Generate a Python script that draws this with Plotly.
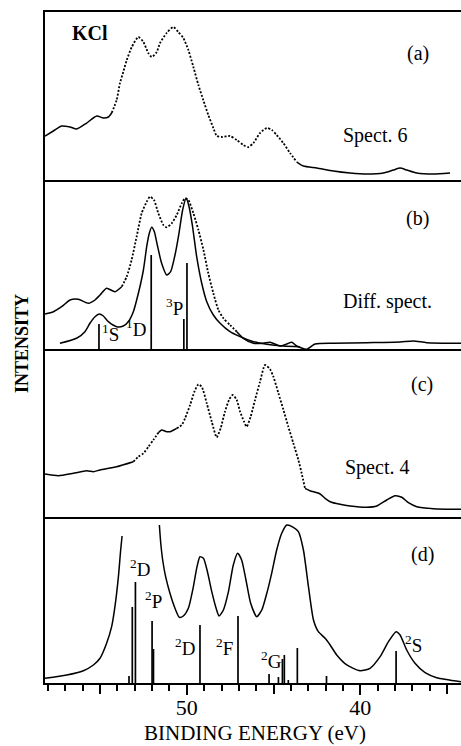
import plotly.graph_objects as go
from plotly.subplots import make_subplots

# ---------------- data (binding energy in eV, intensity in arbitrary units) ----------------
# (a) Spect. 6
energy_a = [58.17, 57.69, 57.21, 56.73, 56.34, 55.77, 55.19, 54.81, 54.52, 54.33, 54.04, 53.85,
            53.66, 53.46, 53.17, 52.79, 52.50, 52.22, 52.02, 51.73, 51.54, 51.16, 50.78, 50.49,
            50.20, 49.91, 49.62, 49.33, 49.05, 48.76, 48.47, 48.27, 47.99, 47.51, 47.12, 46.74,
            46.45, 46.16, 45.78, 45.39, 45.10, 44.82, 44.44, 44.05, 43.66, 43.28, 42.51, 41.55,
            40.59, 39.63, 38.67, 38.10, 37.71, 37.32, 36.75, 35.79, 34.83]
inten_a = [44, 49, 54, 53, 51, 57, 64, 62, 63, 67, 80, 97,
           108, 120, 133, 143, 138, 127, 123, 128, 137, 147, 153, 148,
           142, 130, 113, 95, 80, 65, 52, 44, 43, 44, 40, 35,
           33, 37, 47, 52, 50, 45, 37, 27, 18, 14, 12, 9,
           7, 6, 7, 10, 12, 10, 7, 6, 7]

# (b) measured spectrum and fitted difference spectrum
energy_b_meas = [58.17, 57.69, 57.21, 56.73, 56.25, 55.67, 55.29, 55.00, 54.62, 54.14, 53.75, 53.46,
                 53.18, 52.89, 52.60, 52.31, 52.12, 51.89, 51.64, 51.35, 51.16, 50.87, 50.58, 50.29,
                 50.10, 49.91, 49.62, 49.33, 49.04, 48.76, 48.47, 48.18, 47.89, 47.51, 47.12, 46.74,
                 46.16, 45.59, 45.20, 44.63, 44.24, 43.95, 43.67, 43.09, 42.61, 41.55, 39.63, 37.71,
                 36.94, 36.17, 34.19]
inten_b_meas = [35, 37.3, 42.3, 49, 49.7, 45.7, 49, 54, 60.7, 57.3, 62.3, 72.3,
                89, 112.3, 135.7, 147.3, 152.3, 149, 135.7, 124, 121.7, 125.7, 134, 145.7,
                150.7, 149, 135.7, 119, 99, 75.7, 55.7, 39, 30.7, 24, 17.3, 10.7,
                5.7, 5.7, 6.7, 3, 5, 6.7, 3, -0.3, 5, 5.7, 6.3, 7,
                8, 6.3, 5.7]
energy_b_fit = [57.31, 56.35, 55.87, 55.58, 55.29, 55.04, 54.81, 54.52, 54.04, 53.66, 53.37, 53.08,
                52.79, 52.50, 52.31, 52.16, 52.02, 51.87, 51.70, 51.45, 51.16, 50.93, 50.68, 50.45,
                50.24, 50.04, 49.87, 49.68, 49.43, 49.14, 48.85, 48.47, 48.08, 47.51, 46.93, 46.16,
                45.39, 44.43, 43.47]
inten_b_fit = [5.7, 10.7, 17.3, 25.7, 32.3, 35, 33, 27.3, 22.3, 23, 27.3, 37.3,
               55.7, 79, 102.3, 115.7, 121.7, 117.3, 104, 85.7, 74, 77.3, 94, 115.7,
               139, 150.7, 142.3, 124, 92.3, 65.7, 47.3, 34, 25.7, 17.3, 12.3, 7.3,
               4.7, 3, 2.3]
lines_b_energy = [55.06, 52.05, 50.17, 49.99]
lines_b_height = [25, 94, 30, 86]

# (c) Spect. 4
energy_c = [58.17, 57.40, 56.54, 55.77, 55.38, 55.00, 54.04, 53.08, 52.79, 52.50, 52.21, 51.93,
            51.64, 51.45, 51.16, 50.97, 50.58, 50.29, 50.10, 49.81, 49.56, 49.33, 49.14, 48.85,
            48.56, 48.28, 48.05, 47.80, 47.55, 47.35, 47.12, 46.93, 46.70, 46.55, 46.32, 46.07,
            45.78, 45.49, 45.20, 45.01, 44.72, 44.43, 44.15, 43.86, 43.57, 43.38, 43.19, 42.90,
            42.32, 42.03, 41.74, 41.17, 40.59, 39.63, 39.05, 38.48, 38.00, 37.61, 37.23, 36.75,
            35.79, 34.19]
inten_c = [43, 41.3, 43.7, 46.3, 45.3, 47, 50.3, 55.3, 60.3, 63.7, 70.3, 77,
           84.3, 87, 85.3, 85.3, 88.7, 92, 98.7, 112, 125.3, 132.7, 130.3, 113.7,
           95.3, 79.7, 88.7, 105.3, 117.7, 122, 117, 105.3, 95.3, 90.3, 100.3, 117,
           135.3, 152, 147.7, 140.3, 123.7, 107, 90.3, 73.7, 57, 43.7, 28.7, 26.3,
           23, 18.7, 15.3, 12.7, 11, 9.7, 11, 17, 21.3, 19.7, 14.3, 10.3,
           8.3, 7.7]

# (d) calculated spectrum (runs off scale between the two branches) and line positions
energy_d_left = [58.17, 56.92, 55.96, 55.38, 55.00, 54.62, 54.33, 54.14, 53.94, 53.81, 53.73]
inten_d_left = [4.7, 8, 12.3, 18, 24.7, 39.7, 56.3, 76.3, 106.3, 133, 147]
energy_d_right = [51.58, 51.50, 51.39, 51.22, 50.97, 50.68, 50.43, 50.20, 49.91, 49.62, 49.43, 49.24,
                  49.04, 48.81, 48.56, 48.31, 48.14, 47.89, 47.60, 47.32, 47.07, 46.84, 46.59, 46.32,
                  45.97, 45.68, 45.39, 45.11, 44.82, 44.53, 44.24, 43.86, 43.57, 43.28, 42.99, 42.70,
                  42.42, 42.03, 41.74, 41.36, 40.78, 40.02, 39.44, 38.86, 38.38, 37.94, 37.71, 37.33,
                  36.85, 36.27, 35.60, 34.19]
inten_d_right = [158, 139.7, 123, 106.3, 89.7, 74.7, 65.7, 67, 74.7, 96.3, 114.7, 126.3,
                 124.7, 111.3, 91.3, 74.7, 67, 73, 91.3, 118, 129.7, 123, 103, 79.7,
                 66.3, 73, 89.7, 109.7, 133, 149.7, 158, 155.7, 151.3, 133, 96.3, 63,
                 51.3, 44.7, 38, 28, 18, 12.3, 14.7, 26.3, 41.3, 51.3, 48, 33,
                 19.7, 10.3, 5.3, 1.3]
lines_d_energy = [53.33, 53.14, 52.96, 52.00, 51.92, 49.24, 47.05, 45.26, 44.72, 44.49, 44.38,
                  44.15, 43.63, 41.95, 37.94]
lines_d_height = [7, 76, 101, 62, 34, 58, 67, 9, 6, 24, 28, 3, 35, 7, 32]

# x-axis tick marks
labelled_ticks = [50, 40]
labelled_text = ["50", "40"]
unlabelled_ticks = [55, 45, 35]
minor_ticks = [58, 57, 56, 54, 53, 52, 51, 49, 48, 47, 46, 44, 43, 42, 41, 39, 38, 37, 36]

# ---------------- styling ----------------
FONT = "Liberation Serif"
INK = "black"
SOLID_W = 1.5
DOT_W = 1.8
DOT_DASH = "2px,1.7px"

# energy spans where the measured point curves are drawn as separated dots
dotted_spans_a = [(54.33, 43.66)]
dotted_spans_b = [(53.75, 47.12)]
dotted_spans_c = [(53.08, 51.64), (50.58, 43.19)]


def split_by_spans(xs, ys, spans):
    """Split a curve into (solid, dotted) point lists, separated by None gaps."""
    def dotted(m):
        return any(min(a, b) <= m <= max(a, b) for a, b in spans)

    parts = {False: ([], []), True: ([], [])}
    last = {False: None, True: None}
    for i in range(len(xs) - 1):
        key = dotted(0.5 * (xs[i] + xs[i + 1]))
        px, py = parts[key]
        if last[key] != i:
            if px:
                px.append(None)
                py.append(None)
            px.append(xs[i])
            py.append(ys[i])
        px.append(xs[i + 1])
        py.append(ys[i + 1])
        last[key] = i + 1
    return parts[False], parts[True]


def stick_xy(energies, heights):
    xs, ys = [], []
    for e, h in zip(energies, heights):
        xs += [e, e, None]
        ys += [0, h, None]
    return xs, ys


fig = make_subplots(rows=4, cols=1, shared_xaxes=True, vertical_spacing=0)


def add_point_curve(xs, ys, spans, row):
    (sx, sy), (dx, dy) = split_by_spans(xs, ys, spans)
    fig.add_trace(go.Scatter(x=sx, y=sy, mode="lines", showlegend=False, hoverinfo="skip",
                             line=dict(color=INK, width=SOLID_W, shape="spline", smoothing=0.6)),
                  row=row, col=1)
    fig.add_trace(go.Scatter(x=dx, y=dy, mode="lines", showlegend=False, hoverinfo="skip",
                             line=dict(color=INK, width=DOT_W, dash=DOT_DASH,
                                       shape="spline", smoothing=0.6)),
                  row=row, col=1)


def add_solid(xs, ys, row):
    fig.add_trace(go.Scatter(x=xs, y=ys, mode="lines", showlegend=False, hoverinfo="skip",
                             line=dict(color=INK, width=SOLID_W, shape="spline", smoothing=0.6)),
                  row=row, col=1)


def add_sticks(energies, heights, row):
    xs, ys = stick_xy(energies, heights)
    fig.add_trace(go.Scatter(x=xs, y=ys, mode="lines", showlegend=False, hoverinfo="skip",
                             line=dict(color=INK, width=1.7)),
                  row=row, col=1)


add_point_curve(energy_a, inten_a, dotted_spans_a, 1)
add_point_curve(energy_b_meas, inten_b_meas, dotted_spans_b, 2)
add_solid(energy_b_fit, inten_b_fit, 2)
add_sticks(lines_b_energy, lines_b_height, 2)
add_point_curve(energy_c, inten_c, dotted_spans_c, 3)
add_solid(energy_d_left + [None] + energy_d_right, inten_d_left + [None] + inten_d_right, 4)
add_sticks(lines_d_energy, lines_d_height, 4)

# an invisible trace on a twin x-axis carries the unlabelled 5 eV ticks
fig.add_trace(go.Scatter(x=[unlabelled_ticks[0]], y=[0], mode="markers", showlegend=False,
                         hoverinfo="skip", marker=dict(opacity=0), xaxis="x5", yaxis="y4"))

# panel geometry (fractions of the plotting height)
domains = [[0.7496, 1.0], [0.4978, 0.7496], [0.2474, 0.4978], [0.0, 0.2474]]
y_ranges = [[0, 168], [0, 169], [0, 168], [0, 166]]
x_range = [58.17, 34.2]

for i in range(4):
    sfx = "" if i == 0 else str(i + 1)
    fig.layout["yaxis" + sfx].update(
        domain=domains[i], range=y_ranges[i], showline=True, linecolor=INK, linewidth=2,
        ticks="", showticklabels=False, showgrid=False, zeroline=False, fixedrange=True)
    fig.layout["xaxis" + sfx].update(
        range=x_range, autorange=False, showline=True, linecolor=INK, linewidth=2,
        showgrid=False, zeroline=False, ticks="", showticklabels=False)

fig.layout.xaxis.update(mirror=True)
fig.layout.xaxis4.update(
    tickmode="array", tickvals=labelled_ticks, ticktext=labelled_text, showticklabels=True,
    ticks="outside", ticklen=10, tickwidth=2, tickcolor=INK, ticklabelstandoff=-6,
    tickfont=dict(family=FONT, size=22, color=INK),
    minor=dict(tickmode="array", tickvals=minor_ticks, ticks="outside", ticklen=6,
               tickwidth=2, tickcolor=INK, showgrid=False))
fig.update_layout(xaxis5=dict(
    overlaying="x4", anchor="y4", side="bottom", range=x_range, autorange=False,
    tickmode="array", tickvals=unlabelled_ticks, showticklabels=False,
    ticks="outside", ticklen=10, tickwidth=2, tickcolor=INK,
    showline=False, showgrid=False, zeroline=False))

# ---------------- text ----------------
def label(text, x, y, row, size=20, **kw):
    sfx = "" if row == 1 else str(row)
    fig.add_annotation(text=text, x=x, y=y, xref="x" + sfx, yref="y" + sfx,
                       showarrow=False, font=dict(family=FONT, size=size, color=INK),
                       xanchor="center", yanchor="middle", **kw)


label("<b>KCl</b>", 55.58, 147, 1, size=20)
label("(a)", 36.67, 127, 1)
label("Spect. 6", 39.15, 45, 1)

label("(b)", 36.73, 131, 2)
label("Diff. spect.", 38.46, 47, 2)
label("<sup>1</sup>S", 54.40, 16, 2, size=19)
label("<sup>1</sup>D", 52.90, 21, 2, size=19)
label("<sup>3</sup>P", 50.71, 42, 2, size=19)

label("(c)", 36.44, 132, 3)
label("Spect. 4", 39.03, 49, 3)

label("(d)", 36.44, 128, 4)
label("<sup>2</sup>D", 52.69, 115, 4, size=19)
label("<sup>2</sup>P", 51.92, 83, 4, size=19)
label("<sup>2</sup>D", 50.10, 36, 4, size=19)
label("<sup>2</sup>F", 47.80, 36, 4, size=19)
label("<sup>2</sup>G", 45.14, 23, 4, size=19)
label("<sup>2</sup>S", 36.93, 39, 4, size=19)

fig.add_annotation(text="<b>INTENSITY</b>", xref="paper", yref="paper", x=-0.0553, y=0.5067,
                   textangle=-90, showarrow=False, xanchor="center", yanchor="middle",
                   font=dict(family=FONT, size=18, color=INK))
fig.add_annotation(text="BINDING ENERGY (eV)", xref="paper", yref="paper", x=0.505, y=-0.0939,
                   showarrow=False, xanchor="center", yanchor="bottom", borderpad=0,
                   font=dict(family=FONT, size=21, color=INK))

fig.update_layout(
    width=461, height=746,
    margin=dict(l=45, r=0, t=12, b=63),
    paper_bgcolor="white", plot_bgcolor="white",
    showlegend=False,
)

fig.write_html("out.html", config={"displayModeBar": False})
